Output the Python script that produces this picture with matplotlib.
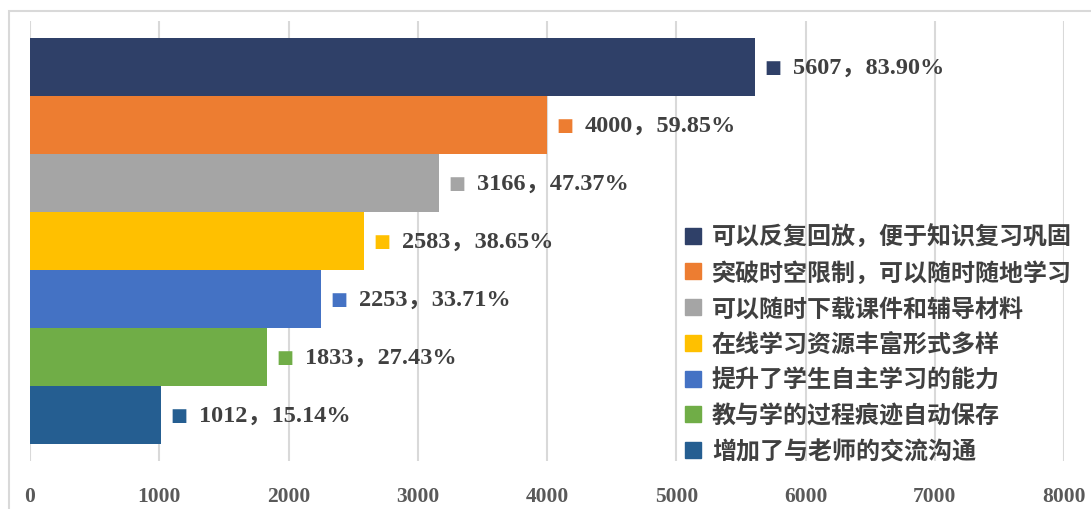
import matplotlib
matplotlib.use("Agg")
from matplotlib import pyplot as plt
from matplotlib.patches import Rectangle
from matplotlib.lines import Line2D

# data (top to bottom)
labels = ["可以反复回放，便于知识复习巩固", "突破时空限制，可以随时随地学习",
          "可以随时下载课件和辅导材料", "在线学习资源丰富形式多样",
          "提升了学生自主学习的能力", "教与学的过程痕迹自动保存",
          "增加了与老师的交流沟通"]
counts = [5607, 4000, 3166, 2583, 2253, 1833, 1012]
percents = ["83.90%", "59.85%", "47.37%", "38.65%", "33.71%", "27.43%", "15.14%"]
colors = ["#2F4068", "#ED7D31", "#A5A5A5", "#FFC000", "#4472C4", "#70AD47", "#255E91"]
xticks = [0, 1000, 2000, 3000, 4000, 5000, 6000, 7000, 8000]

W, H = 1091, 510
fig = plt.figure(figsize=(W / 100, H / 100), dpi=100)
fig.patches.append(Rectangle((9 / W, -0.01), 1.0, (H - 12) / H + 0.01,
                             transform=fig.transFigure, fill=False,
                             edgecolor="#d9d9d9", linewidth=1.5))
ax = fig.add_axes([30 / W, 48 / H, 1034 / W, 440 / H])

n = len(counts)
ypos = [n - 1 - i for i in range(n)]
ax.barh(ypos, counts, height=1.0, color=colors, zorder=2)

numfont = ["Liberation Serif", "Noto Sans CJK SC"]
for y, c, p, col in zip(ypos, counts, percents, colors):
    ax.annotate("■", (c, y), xytext=(18, 0), textcoords="offset pixels",
                ha="center", va="center", color=col, fontsize=13,
                family=["DejaVu Sans"], zorder=3)
    ax.annotate(f"{c}，{p}", (c, y), xytext=(38, 0), textcoords="offset pixels",
                ha="left", va="center", color="#404040", fontsize=17.5,
                fontweight="bold", family=numfont, zorder=3)

ax.set_xlim(0, 8000)
ax.set_ylim(-0.793, n - 1 + 0.793)
ax.set_xticks(xticks)
ax.set_yticks([])
ax.grid(axis="x", color="#d9d9d9", linewidth=1.5, zorder=0)
for s in ax.spines.values():
    s.set_visible(False)
ax.tick_params(axis="x", length=0, pad=18, labelsize=15.5, labelcolor="#595959")
for t in ax.get_xticklabels():
    t.set_fontfamily("Liberation Serif")
    t.set_fontweight("bold")

handles = [Line2D([], [], marker="s", linestyle="", markersize=11,
                  markerfacecolor=c, markeredgecolor=c) for c in colors]
leg = ax.legend(handles, labels, loc="upper left",
                bbox_to_anchor=(683 / W, 1 - 226 / H), bbox_transform=fig.transFigure,
                borderaxespad=0, borderpad=0,
                frameon=False, handletextpad=0.4, handlelength=0.8,
                labelspacing=0.49,
                prop={"family": "Noto Sans CJK SC", "size": 17.3, "weight": "bold"})
for t in leg.get_texts():
    t.set_color("#404040")

fig.savefig("out.png", dpi=100)
